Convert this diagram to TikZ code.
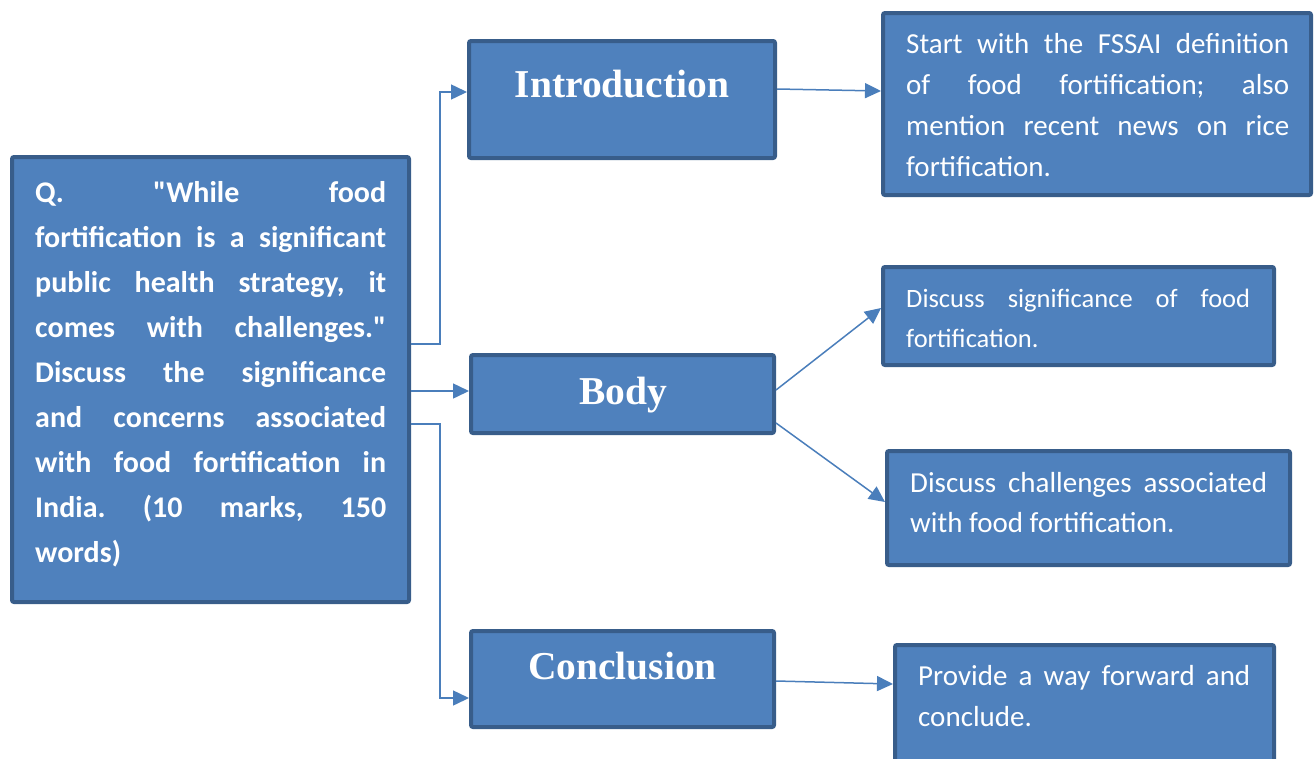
\documentclass[tikz,border=0pt]{standalone}
\usepackage{fontspec}
% plain mapping so that " stays a straight quote
\setmainfont{Carlito}[Ligatures=TeXOff]
\newfontfamily\titlefont{Liberation Serif}
\usetikzlibrary{arrows.meta}
\definecolor{boxfill}{HTML}{4F81BD}
\definecolor{boxline}{HTML}{385D8A}
\definecolor{linkcol}{HTML}{4A7EBB}
% one justified line of a given width
\newcommand\jline[2]{\makebox[#1][s]{#2}}
\frenchspacing
\begin{document}
\begin{tikzpicture}[x=1pt,y=-1pt,
  panel/.style={draw=boxline, fill=boxfill, line width=4pt, rounded corners=2pt,
    inner sep=0pt, outer sep=2pt},
  txt/.style={text=white, inner sep=0pt, anchor=base west},
  heading/.style={text=white, inner sep=0pt, anchor=base,
    font=\titlefont\bfseries\fontsize{39.5}{40}\selectfont},
  link/.style={draw=linkcol, line width=1.5pt,
    -{Triangle[length=16pt,width=15pt]}}]
\useasboundingbox (0,0) rectangle (1314,758);
\clip (0,0) rectangle (1314,758);

% boxes
\node[panel, minimum width=397pt, minimum height=445pt] (q) at (210.5,379.5) {};
\node[panel, minimum width=306pt, minimum height=117pt] (intro) at (622,99.5) {};
\node[panel, minimum width=303pt, minimum height=78pt] (body) at (622.5,394) {};
\node[panel, minimum width=303pt, minimum height=96pt] (concl) at (622.5,679) {};
\node[panel, minimum width=428pt, minimum height=182pt] (def) at (1097,104) {};
\node[panel, minimum width=391pt, minimum height=98pt] (sig) at (1078.5,316) {};
\node[panel, minimum width=403pt, minimum height=114pt] (chal) at (1088.5,508) {};
\node[panel, minimum width=379pt, minimum height=128pt] (way) at (1084.5,709) {};

% question text
\node[txt] (qtext) at (35,202) {\parbox[t]{351pt}{\bfseries\fontsize{30}{45}\selectfont
  \jline{351pt}{Q. "While food}\\
  \jline{351pt}{fortification is a significant}\\
  \jline{351pt}{public health strategy, it}\\
  \jline{351pt}{comes with challenges."}\\
  \jline{351pt}{Discuss the significance}\\
  \jline{351pt}{and concerns associated}\\
  \jline{351pt}{with food fortification in}\\
  \jline{351pt}{India. (10 marks, 150}\\
  words)}};

% headings
\node[heading] (introtext) at (622,97) {Introduction};
\node[heading] (bodytext) at (623.5,404) {Body};
\node[heading] (concltext) at (622.5,679) {Conclusion};

% detail texts
\node[txt] (deftext) at (906,53) {\parbox[t]{383pt}{\fontsize{29}{41.2}\selectfont
  \jline{383pt}{Start with the FSSAI definition}\\
  \jline{383pt}{of food fortification; also}\\
  \jline{383pt}{mention recent news on rice}\\
  fortification.}};
\node[txt] (sigtext) at (906,307) {\parbox[t]{344pt}{\fontsize{26.5}{40}\selectfont
  \jline{344pt}{Discuss significance of food}\\
  fortification.}};
\node[txt] (chaltext) at (910,492) {\parbox[t]{357pt}{\fontsize{29}{40}\selectfont
  \jline{357pt}{Discuss challenges associated}\\
  with food fortification.}};
\node[txt] (waytext) at (918,685) {\parbox[t]{332pt}{\fontsize{29}{41}\selectfont
  \jline{332pt}{Provide a way forward and}\\
  conclude.}};

% connectors
\draw[link] ([yshift=35.5pt]q.east) -- ++(29,0) |- ([yshift=7.5pt]intro.west);
\draw[link] ([yshift=-11.5pt]q.east) -- ([yshift=3pt]body.west);
\draw[link] ([yshift=-44.5pt]q.east) -- ++(29,0) |- ([yshift=-19pt]concl.west);
\draw[link] ([yshift=10.5pt]intro.east) -- ([yshift=13pt]def.west);
\draw[link] ([yshift=4pt]body.east) -- ([yshift=8pt]sig.west);
\draw[link] ([yshift=-29pt]body.east) -- ([yshift=6pt]chal.west);
\draw[link] ([yshift=-2pt]concl.east) -- ([yshift=25pt]way.west);
\end{tikzpicture}
\end{document}
